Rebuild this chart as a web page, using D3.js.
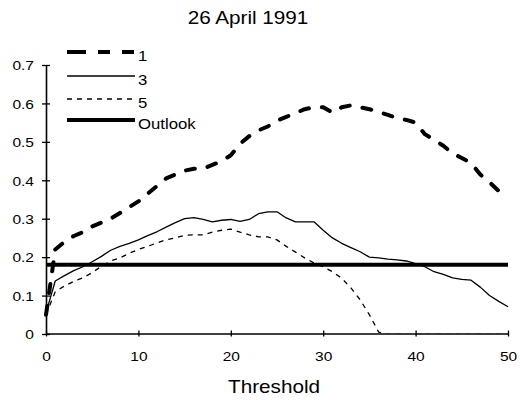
<!DOCTYPE html>
<html>
<head>
<meta charset="utf-8">
<script src="https://cdn.jsdelivr.net/npm/d3@7"></script>
<style>
  body { margin: 0; background: #fff; }
  text { font-family: Arial, "Liberation Sans", sans-serif; fill: #000; }
</style>
</head>
<body>
<svg id="chart"></svg>
<script>
/////////////////////////////////////////////////
/////////////////// Data ////////////////////////
/////////////////////////////////////////////////

var thresholds = d3.range(0, 51);

var lead1 = [0.05, 0.22, 0.24, 0.255, 0.265, 0.28, 0.29, 0.30, 0.315, 0.33,
  0.345, 0.365, 0.385, 0.405, 0.415, 0.425, 0.43, 0.43, 0.44, 0.45,
  0.465, 0.495, 0.515, 0.53, 0.54, 0.555, 0.565, 0.575, 0.585, 0.59,
  0.59, 0.576, 0.59, 0.595, 0.59, 0.585, 0.578, 0.57, 0.562, 0.557,
  0.55, 0.52, 0.505, 0.49, 0.47, 0.458, 0.445, 0.415, 0.395, 0.372, 0.355];

var lead3 = [0.055, 0.138, 0.152, 0.165, 0.175, 0.188, 0.202, 0.218, 0.228, 0.236,
  0.245, 0.256, 0.266, 0.278, 0.29, 0.30, 0.303, 0.298, 0.292, 0.296,
  0.298, 0.293, 0.298, 0.313, 0.318, 0.318, 0.302, 0.292, 0.292, 0.292,
  0.27, 0.25, 0.236, 0.225, 0.214, 0.20, 0.198, 0.195, 0.193, 0.19,
  0.183, 0.175, 0.162, 0.155, 0.146, 0.142, 0.14, 0.122, 0.10, 0.085, 0.071];

var lead5 = [0.05, 0.11, 0.125, 0.137, 0.146, 0.16, 0.176, 0.19, 0.198, 0.21,
  0.22, 0.228, 0.237, 0.245, 0.25, 0.257, 0.258, 0.258, 0.265, 0.27,
  0.273, 0.265, 0.258, 0.253, 0.253, 0.245, 0.228, 0.213, 0.198, 0.185,
  0.175, 0.162, 0.145, 0.12, 0.089, 0.05, 0.005, 0, 0, 0,
  0, 0, 0, 0, 0, 0, 0, 0, 0, 0, 0];

var outlook = 0.18;

var seriesNames = ["1", "3", "5", "Outlook"];
var xTicks = [0, 10, 20, 30, 40, 50];
var yTicks = [0, 0.1, 0.2, 0.3, 0.4, 0.5, 0.6, 0.7];

/////////////////////////////////////////////////
/////////////////// Chart ///////////////////////
/////////////////////////////////////////////////

var svgWidth = 520, svgHeight = 400;
var margin = {left: 46, right: 12, top: 65, bottom: 66};
var stretch = 1.15; // text in the original is a bit wide

var svg = d3.select("#chart")
  .attr("width", svgWidth)
  .attr("height", svgHeight);

var x = d3.scaleLinear()
  .domain([0, 50])
  .range([margin.left, svgWidth - margin.right]);

var y = d3.scaleLinear()
  .domain([0, 0.7])
  .range([svgHeight - margin.bottom, margin.top]);

// keep lines sitting on zero hidden under the x axis
svg.append("clipPath")
  .attr("id", "above-axis")
  .append("rect")
  .attr("x", 0).attr("y", 0)
  .attr("width", svgWidth)
  .attr("height", y(0) - 0.8);

var styles = [
  {width: 4, dash: "9,13", cap: "round"},
  {width: 1.3, dash: null, cap: "butt"},
  {width: 1.3, dash: "5,5", cap: "butt"},
  {width: 4, dash: null, cap: "butt"}
];

// outlook line
svg.append("line")
  .attr("x1", x(0)).attr("x2", x(50))
  .attr("y1", y(outlook)).attr("y2", y(outlook))
  .attr("stroke", "#000")
  .attr("stroke-width", styles[3].width);

var line = d3.line()
  .x(function(d, i) { return x(thresholds[i]); })
  .y(function(d) { return y(d); });

[lead1, lead3, lead5].forEach(function(s, i) {
  svg.append("path")
    .datum(s)
    .attr("d", line)
    .attr("clip-path", i === 2 ? "url(#above-axis)" : null)
    .attr("fill", "none")
    .attr("stroke", "#000")
    .attr("stroke-width", styles[i].width)
    .attr("stroke-dasharray", styles[i].dash)
    .attr("stroke-linecap", styles[i].cap)
    .attr("stroke-linejoin", "round");
});

// axes
var xAxis = svg.append("g")
  .attr("transform", "translate(0," + (y(0) - 0.5) + ")")
  .call(d3.axisBottom(x).tickValues(xTicks).tickSize(3).tickSizeOuter(0));
xAxis.selectAll(".tick line").attr("y1", -3).attr("stroke-width", 1.3);
xAxis.select(".domain").attr("stroke-width", 1.6);
xAxis.selectAll("text")
  .attr("font-size", 13.5)
  .attr("y", 0).attr("dy", 0)
  .attr("transform", "translate(0,27) scale(" + stretch + ",1)");

var yAxis = svg.append("g")
  .attr("transform", "translate(" + x(0) + ",0)")
  .call(d3.axisLeft(y).tickValues(yTicks).tickSize(4).tickSizeOuter(0)
    .tickFormat(function(d) { return d === 0 ? "0" : d3.format(".1f")(d); }));
yAxis.selectAll(".tick line").attr("x1", 4).attr("x2", -4).attr("stroke-width", 1.3);
yAxis.select(".domain").attr("stroke-width", 1.6);
yAxis.selectAll("text")
  .attr("font-size", 13.5)
  .attr("x", 0).attr("dy", "0.35em")
  .attr("transform", "translate(-12,0) scale(" + stretch + ",1)");

svg.selectAll(".domain, .tick line").attr("stroke", "#000");
svg.selectAll(".tick text").attr("fill", "#000").style("font-family", "Arial, 'Liberation Sans', sans-serif");

// title and axis label
svg.append("text")
  .attr("transform", "translate(248,24) scale(" + stretch + ",1)")
  .attr("text-anchor", "middle")
  .attr("font-size", 18)
  .text("26 April 1991");

svg.append("text")
  .attr("transform", "translate(274,393) scale(" + stretch + ",1)")
  .attr("text-anchor", "middle")
  .attr("font-size", 18)
  .text("Threshold");

// legend
var legendY = [52, 76, 99, 120];
var legend = svg.selectAll(".legend")
  .data(seriesNames)
  .enter()
  .append("g");

legend.append("line")
  .attr("x1", 67).attr("x2", 135)
  .attr("y1", function(d, i) { return legendY[i]; })
  .attr("y2", function(d, i) { return legendY[i]; })
  .attr("stroke", "#000")
  .attr("stroke-width", function(d, i) { return styles[i].width; })
  .attr("stroke-dasharray", function(d, i) { return i === 0 ? "19,12,12,12,12" : styles[i].dash; });

legend.append("text")
  .attr("transform", function(d, i) {
    return "translate(138," + (legendY[i] + 8.5) + ") scale(1.08,1)";
  })
  .attr("font-size", 15.5)
  .text(function(d) { return d; });
</script>
</body>
</html>
